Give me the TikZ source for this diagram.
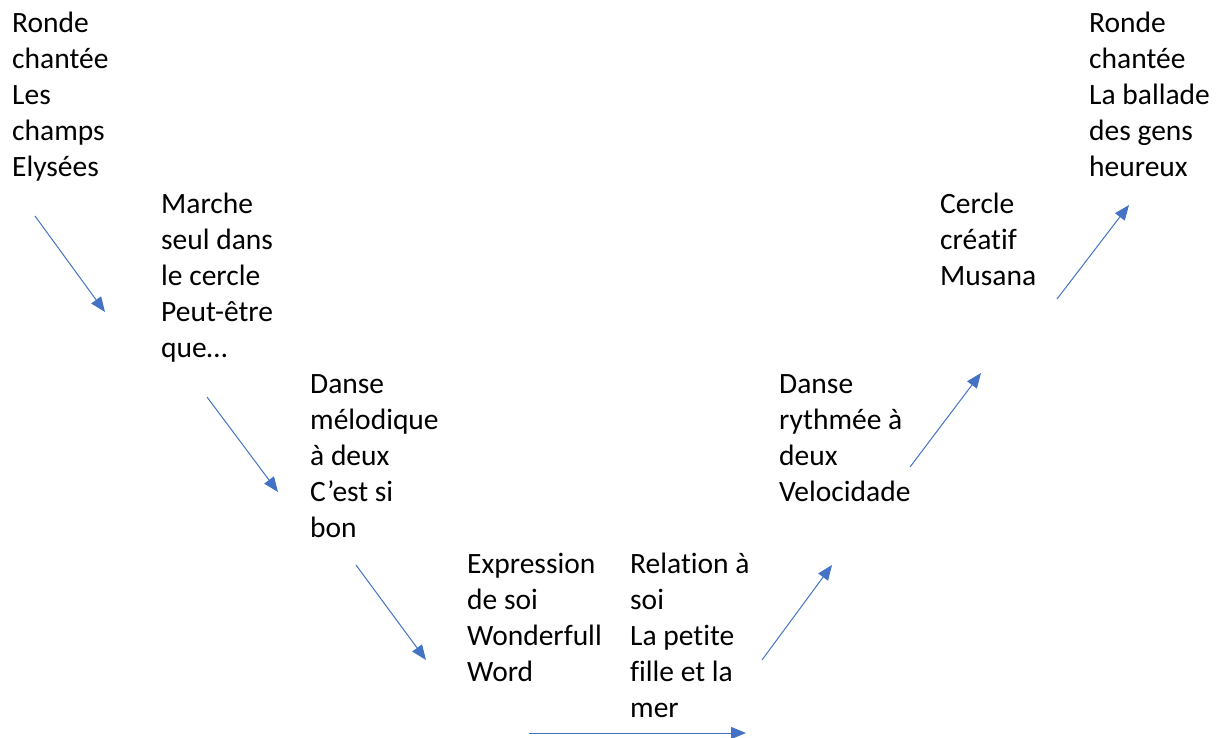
\documentclass[tikz,border=0pt]{standalone}
\usepackage{fontspec}
\setmainfont{Carlito}[Ligatures={NoCommon}]
\usetikzlibrary{arrows.meta}
\definecolor{arrowblue}{HTML}{4472C4}
\tikzset{
  lbl/.style={anchor=base west, inner sep=0pt, align=left, font=\fontsize{29.5pt}{36pt}\selectfont},
  flow/.style={draw=arrowblue, line width=1pt, -{Triangle[length=15pt,width=12pt]}},
}
\begin{document}
\begin{tikzpicture}[x=1pt,y=-1pt]
\useasboundingbox (0,0) rectangle (1217,738);
% anchors are at the baseline of each label's last line
\node[lbl] (n1) at (12,177) {Ronde\\chantée\\Les\\champs\\Elysées};
\node[lbl] (n2) at (161,357) {Marche\\seul dans\\le cercle\\Peut-être\\que…};
\node[lbl] (n3) at (310,537) {Danse\\mélodique\\à deux\\C’est si\\bon};
\node[lbl] (n4) at (467,681) {Expression\\de soi\\Wonderfull\\Word};
\node[lbl] (n5) at (630,717) {Relation à\\soi\\La petite\\fille et la\\mer};
\node[lbl] (n6) at (779,501) {Danse\\rythmée à\\deux\\Velocidade};
\node[lbl] (n7) at (940,285) {Cercle\\créatif\\Musana};
\node[lbl] (n8) at (1089,177) {Ronde\\chantée\\La ballade\\des gens\\heureux};
\coordinate (a1s) at (35,216);   \coordinate (a1e) at (105,312);
\coordinate (a2s) at (207,397);  \coordinate (a2e) at (278,492);
\coordinate (a3s) at (356,565);  \coordinate (a3e) at (426,660);
\coordinate (a4s) at (529,733);  \coordinate (a4e) at (746,733);
\coordinate (a5s) at (762,660);  \coordinate (a5e) at (832,565);
\coordinate (a6s) at (910,467);  \coordinate (a6e) at (981,373);
\coordinate (a7s) at (1057,299); \coordinate (a7e) at (1129,205);
\draw[flow] (a1s) -- (a1e);
\draw[flow] (a2s) -- (a2e);
\draw[flow] (a3s) -- (a3e);
\draw[flow] (a4s) -- (a4e);
\draw[flow] (a5s) -- (a5e);
\draw[flow] (a6s) -- (a6e);
\draw[flow] (a7s) -- (a7e);
\end{tikzpicture}
\end{document}
